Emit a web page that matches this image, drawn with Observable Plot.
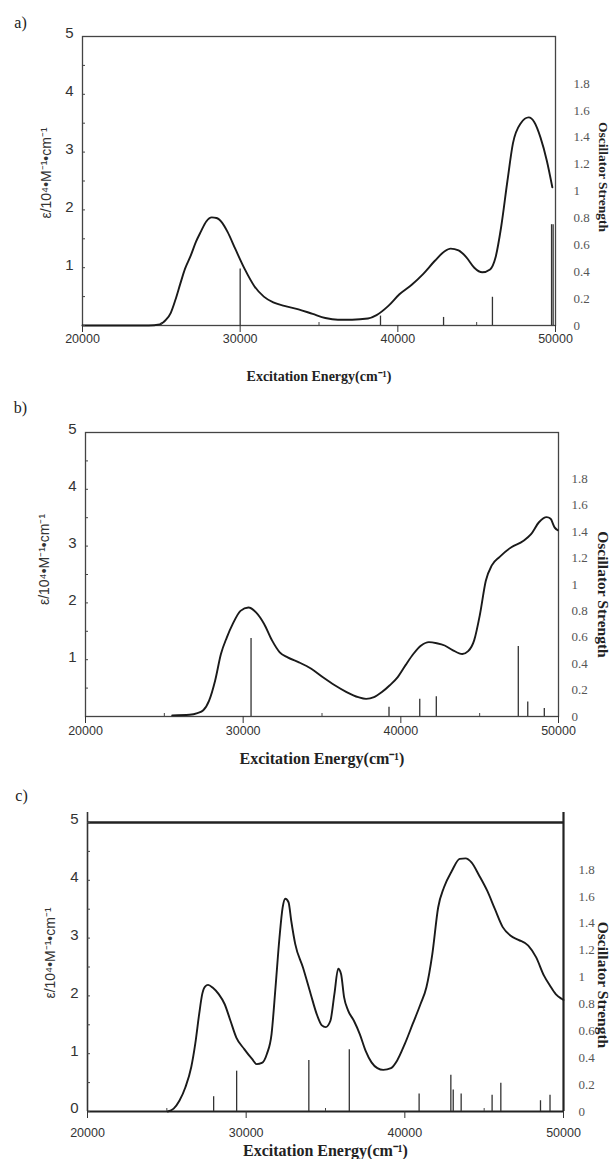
<!DOCTYPE html>
<html><head><meta charset="utf-8">
<script src="https://cdn.jsdelivr.net/npm/d3@7"></script>
<script src="https://cdn.jsdelivr.net/npm/@observablehq/plot@0.6"></script>
<style>body{margin:0;background:#fff;} #root svg{display:block;}</style>
</head><body><div id="root"></div>
<script>
// ---- data ----
const xTicks = [20000, 30000, 40000, 50000];
const xMinor = [25000, 35000, 45000];
const fTicks = [0, 0.2, 0.4, 0.6, 0.8, 1, 1.2, 1.4, 1.6, 1.8];
const fTickLabels = ["0", "0.2", "0.4", "0.6", "0.8", "1", "1.2", "1.4", "1.6", "1.8"];
const fMax = 2.15;     // oscillator strength at the top of the frame
const epsMax = 5;

// panel a
const aX = [20000,24200,24900,25300,25600,25900,26200,26500,26850,27200,27500,27850,28200,28500,28850,29200,29700,30300,30900,31500,32100,32800,33700,34600,35400,36200,37100,38100,38650,39400,40100,40900,41600,42350,42950,43350,43850,44350,44850,45350,45850,46200,46550,46950,47300,47800,48300,48650,49050,49450,49800];
const aY = [0,0,0.02,0.10,0.22,0.45,0.72,0.98,1.20,1.45,1.62,1.80,1.87,1.86,1.78,1.62,1.32,0.97,0.68,0.50,0.40,0.34,0.28,0.20,0.13,0.10,0.10,0.12,0.18,0.34,0.54,0.71,0.89,1.12,1.28,1.33,1.30,1.18,1.00,0.92,0.97,1.18,1.70,2.50,3.15,3.50,3.60,3.52,3.25,2.85,2.39];
const aStickX = [30000, 38900, 42900, 46000, 49750, 49850];
const aStickF = [0.42, 0.07, 0.06, 0.21, 0.75, 0.75];

// panel b
const bX = [25500,26600,27100,27470,27840,28220,28590,28960,29340,29830,30330,30830,31330,31830,32320,32820,33570,34320,35060,35810,36560,37300,37800,38300,38800,39300,39790,40290,40790,41290,41780,42280,42780,43280,43900,44270,44650,45020,45390,45770,46270,47010,47760,48260,48760,49250,49500,49750,49950];
const bY = [0.02,0.03,0.06,0.11,0.28,0.63,1.10,1.39,1.63,1.86,1.92,1.83,1.63,1.34,1.13,1.04,0.95,0.84,0.69,0.55,0.43,0.34,0.31,0.34,0.43,0.55,0.69,0.90,1.10,1.25,1.31,1.29,1.25,1.17,1.10,1.15,1.34,1.80,2.39,2.66,2.81,2.98,3.09,3.21,3.42,3.51,3.48,3.33,3.28];
const bStickX = [30500, 39250, 41200, 42250, 47450, 48050, 49100];
const bStickF = [0.59, 0.07, 0.13, 0.15, 0.53, 0.11, 0.06];

// panel c
const cX = [25060,25430,25800,26170,26540,26790,27040,27230,27410,27600,27900,28270,28640,29010,29380,29880,30370,30670,30990,31310,31600,31850,32100,32300,32470,32670,32840,33090,33580,34070,34440,34770,35010,35310,35560,35800,35980,36170,36420,36790,37160,37530,37900,38270,38640,39130,39510,40000,40490,40990,41360,41730,42100,42470,42960,43460,43830,44200,44690,45190,45680,46170,46670,47160,47780,48270,48770,49140,49510,49880,50000];
const cY = [0,0.05,0.19,0.42,0.77,1.17,1.69,2.03,2.16,2.19,2.14,2.03,1.86,1.57,1.28,1.08,0.91,0.82,0.84,1.00,1.34,2.15,3.01,3.53,3.68,3.62,3.30,2.90,2.49,2.03,1.69,1.49,1.46,1.57,2.03,2.47,2.38,1.98,1.75,1.57,1.34,1.05,0.85,0.75,0.72,0.75,0.88,1.17,1.51,1.86,2.15,2.72,3.53,3.88,4.16,4.37,4.38,4.31,4.08,3.82,3.50,3.19,3.04,2.97,2.87,2.67,2.35,2.18,2.03,1.95,1.93];
const cStickX = [27950, 29400, 33950, 36500, 40900, 42900, 43050, 43550, 45500, 46050, 48550, 49150];
const cStickF = [0.11, 0.30, 0.38, 0.46, 0.13, 0.27, 0.16, 0.13, 0.12, 0.21, 0.08, 0.12];

const panelLabels = ["a)", "b)", "c)"];
const xTitle = "Excitation Energy(cm\u207B\u00B9)";
const yTitle = "\u03B5/10\u2074\u2022M\u207B\u00B9\u2022cm\u207B\u00B9";
const y2Title = "Oscillator Strength";

// ---- drawing ----
const K = epsMax / fMax;
const SANS = "Liberation Sans, Arial, sans-serif";
const SERIF = "Liberation Serif, Times New Roman, serif";

function panel(cfg) {
  const curve = cfg.xs.map((x, i) => ({x, y: cfg.ys[i]}));
  const sticks = cfg.sx.map((x, i) => ({x, f: cfg.sf[i]}));
  const frameMarks = cfg.open
    ? [
        Plot.ruleY([epsMax], {stroke: "#222", strokeWidth: 2.4}),
        Plot.ruleY([0], {stroke: "#222", strokeWidth: 2}),
        Plot.ruleX([xTicks[0]], {y1: 0, y2: epsMax * 1.035, stroke: "#333", strokeWidth: 1.6}),
        Plot.ruleX([xTicks[xTicks.length - 1]], {y1: 0, y2: epsMax * 1.035, stroke: "#222", strokeWidth: 2.2})
      ]
    : [Plot.frame({stroke: "#444", strokeWidth: 1.3})];
  return Plot.plot({
    width: 613, height: cfg.h,
    marginTop: cfg.mt, marginBottom: cfg.mb, marginLeft: cfg.ml, marginRight: cfg.mr,
    x: {domain: [xTicks[0], xTicks[xTicks.length - 1]]},
    y: {domain: [0, epsMax]},
    style: {background: "#fff", overflow: "visible"},
    marks: [
      ...frameMarks,
      Plot.ruleX(sticks, {x: "x", y1: 0, y2: d => d.f * K, stroke: "#333", strokeWidth: 1.3}),
      Plot.line(curve, {x: "x", y: "y", curve: "monotone-x", stroke: "#1a1a1a", strokeWidth: 1.9}),
      // left axis
      Plot.axisY(cfg.leftTicks, {anchor: "left", tickSize: 0, tickPadding: 9, dy: -3,
        tickFormat: d => String(d), fontSize: 15, fontFamily: SANS, color: "#333", label: null}),
      Plot.axisY(d3.range(0, epsMax + 0.01, 0.5), {anchor: "left", tickSize: -3, text: null, color: "#444", label: null}),
      // right axis
      Plot.axisY(fTicks.map(f => f * K), {anchor: "right", tickSize: 0, tickPadding: cfg.rpad,
        tickFormat: (d, i) => fTickLabels[i], fontSize: 13, fontFamily: SERIF, color: "#555", label: null}),
      // x axis
      Plot.axisX(xTicks, {tickSize: 7, tickPadding: cfg.xpad, tickFormat: d => String(d),
        fontSize: 12.5, fontFamily: SANS, color: "#333", label: null}),
      Plot.axisX(xMinor, {tickSize: -3, text: null, color: "#444", label: null}),
      // titles
      Plot.text([xTitle], {frameAnchor: "bottom", dy: cfg.xtdy, fontFamily: SERIF, fontWeight: "bold",
        fontSize: cfg.xtfs, fill: "#222", lineAnchor: "middle", textAnchor: "middle"}),
      Plot.text([yTitle], {frameAnchor: "left", dx: cfg.ytdx, dy: cfg.ytdy, rotate: -90, fontFamily: SANS,
        fontSize: 14, fill: "#333", textAnchor: "middle", lineAnchor: "middle"}),
      Plot.text([y2Title], {frameAnchor: "right", dx: cfg.y2dx, dy: cfg.y2dy, rotate: 90, fontFamily: SERIF,
        fontWeight: "bold", fontSize: cfg.y2fs, fill: "#222", textAnchor: "middle", lineAnchor: "middle"}),
      Plot.text([cfg.label], {frameAnchor: "top-left", dx: cfg.ldx, dy: cfg.ldy, fontFamily: SERIF,
        fontSize: 16, fill: "#222", textAnchor: "middle", lineAnchor: "middle"})
    ]
  });
}

const root = document.getElementById("root");
root.append(panel({label: panelLabels[0], xs: aX, ys: aY, sx: aStickX, sf: aStickF,
  h: 390, mt: 36, mb: 65, ml: 82, mr: 58, leftTicks: [1, 2, 3, 4, 5], rpad: 18, xpad: 2,
  xtdy: 51, xtfs: 14, ytdx: -36, ytdy: -8, y2dx: 48, y2dy: -4, y2fs: 13.5, ldx: -62, ldy: -14, open: false}));
root.append(panel({label: panelLabels[1], xs: bX, ys: bY, sx: bStickX, sf: bStickF,
  h: 392, mt: 42, mb: 66, ml: 85, mr: 55, leftTicks: [1, 2, 3, 4, 5], rpad: 13, xpad: 3,
  xtdy: 42, xtfs: 16, ytdx: -41, ytdy: -15, y2dx: 44, y2dy: 20, y2fs: 15.5, ldx: -65, ldy: -25, open: false}));
root.append(panel({label: panelLabels[2], xs: cX, ys: cY, sx: cStickX, sf: cStickF,
  h: 377, mt: 40, mb: 48, ml: 87, mr: 50, leftTicks: [0, 1, 2, 3, 4, 5], rpad: 15, xpad: 10,
  xtdy: 39, xtfs: 16, ytdx: -37, ytdy: -14, y2dx: 39, y2dy: 18, y2fs: 15.5, ldx: -66, ldy: -27, open: true}));
</script>
</body></html>
